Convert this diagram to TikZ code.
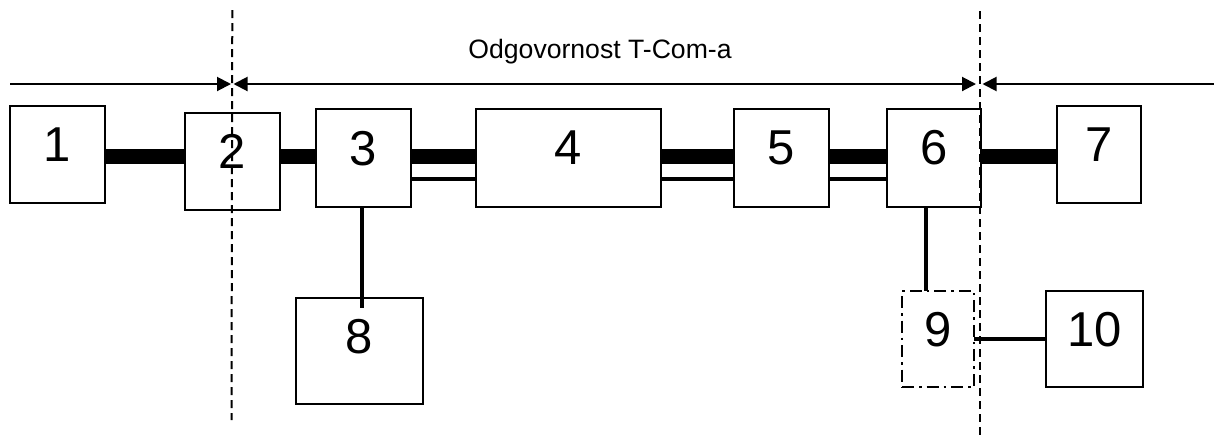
\documentclass[tikz,border=0pt]{standalone}
\usepackage{fontspec}
\setmainfont{Liberation Sans}
\usetikzlibrary{arrows.meta}
\begin{document}
\begin{tikzpicture}[x=1pt,y=-1pt,
 box/.style={draw, line width=2.8pt, inner sep=0pt, outer sep=0pt},
 dashbox/.style={box, dash pattern=on 12pt off 5pt on 2.5pt off 5pt},
 num/.style={font=\fontsize{49}{49}\selectfont, inner sep=0pt},
 busline/.style={line width=15pt},
 pairline/.style={line width=3.5pt},
 conn/.style={line width=3.5pt},
 bound/.style={line width=2pt, dash pattern=on 8pt off 5pt},
 dim/.style={line width=2pt, -{Triangle[length=14pt,width=14pt]}},
 dimboth/.style={line width=2pt, {Triangle[length=14pt,width=14pt]}-{Triangle[length=14pt,width=14pt]}},
]
\useasboundingbox (0,0) rectangle (1214,437);

% boxes
\node[box, minimum width=95pt, minimum height=97pt] (b1) at (57.5,154.5) {};
\node[box, minimum width=95pt, minimum height=97pt] (b2) at (232.5,161.5) {};
\node[box, minimum width=95pt, minimum height=98pt] (b3) at (363.5,158) {};
\node[box, minimum width=185pt, minimum height=98pt] (b4) at (568.5,158) {};
\node[box, minimum width=95pt, minimum height=98pt] (b5) at (781.5,158) {};
\node[box, minimum width=94pt, minimum height=98pt] (b6) at (934,158) {};
\node[box, minimum width=84pt, minimum height=97pt] (b7) at (1099,154.5) {};
\node[box, minimum width=127pt, minimum height=106pt] (b8) at (359.5,351) {};
\node[dashbox, minimum width=72pt, minimum height=96pt] (b9) at (938,339) {};
\node[box, minimum width=97pt, minimum height=96pt] (b10) at (1094.5,339) {};

% numbers
\node[num] (t1) at ([yshift=10pt]b1.center) {1};
\node[num] (t2) at ([yshift=10pt]b2.center) {2};
\node[num] (t3) at ([yshift=9pt]b3.center) {3};
\node[num] (t4) at ([yshift=10pt]b4.center) {4};
\node[num] (t5) at ([yshift=10pt]b5.center) {5};
\node[num] (t6) at ([yshift=10pt]b6.center) {6};
\node[num] (t7) at ([yshift=10pt]b7.center) {7};
\node[num] (t8) at ([yshift=14pt]b8.center) {8};
\node[num] (t9) at ([yshift=9.5pt]b9.center) {9};
\node[num] (t10) at ([yshift=9.5pt]b10.center) {10};

% level coordinates
\coordinate (busy) at (0,156.5);
\coordinate (pairy) at (0,179);

% thick bus
\draw[busline] (b1.east |- busy) -- (b2.west |- busy);
\draw[busline] (b2.east |- busy) -- (b3.west |- busy);
\draw[busline] (b3.east |- busy) -- (b4.west |- busy);
\draw[busline] (b4.east |- busy) -- (b5.west |- busy);
\draw[busline] (b5.east |- busy) -- (b6.west |- busy);
\draw[busline] (b6.east |- busy) -- (b7.west |- busy);

% thin second lines
\draw[pairline] (b3.east |- pairy) -- (b4.west |- pairy);
\draw[pairline] (b4.east |- pairy) -- (b5.west |- pairy);
\draw[pairline] (b5.east |- pairy) -- (b6.west |- pairy);

% branch connectors
\coordinate (c3) at ([xshift=-1.5pt]b3.south);
\draw[conn] (c3) -- ([yshift=-10pt]b8.north -| c3);
\coordinate (c6) at ([xshift=-8pt]b6.south);
\draw[conn] (c6) -- (b9.north -| c6);
\draw[conn] (b9.east) -- (b10.west);

% boundaries
\coordinate (dlt) at (232.3,10);
\coordinate (dlb) at (231.5,420);
\coordinate (drt) at (980.3,11);
\coordinate (drb) at (980.3,437);
\draw[bound] (dlt) -- (dlb);
\draw[bound] (drt) -- (drb);

% responsibility arrows
\coordinate (a0) at (10,84);
\coordinate (a1) at (231,84);
\coordinate (a2) at (233.5,84);
\coordinate (a3) at (976,84);
\coordinate (a4) at (982.5,84);
\coordinate (a5) at (1214,84);
\draw[dim] (a0) -- (a1);
\draw[dimboth] (a2) -- (a3);
\draw[dim] (a5) -- (a4);

\node[font=\fontsize{26.6}{30}\selectfont, inner sep=0pt, anchor=base] (resp) at (600,58) {Odgovornost T-Com-a};
\end{tikzpicture}
\end{document}
